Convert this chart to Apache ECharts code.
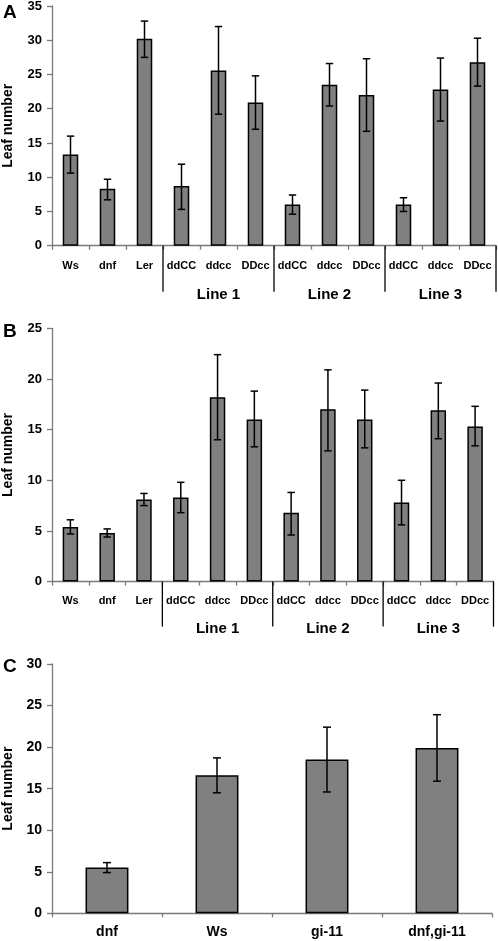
<!DOCTYPE html>
<html>
<head>
<meta charset="utf-8">
<script src="https://cdn.jsdelivr.net/npm/echarts@6/dist/echarts.min.js"></script>
<style>
html,body{margin:0;padding:0;background:#fff;}
#chart{width:498px;height:941px;}
</style>
</head>
<body>
<div id="chart"></div>
<script>
// ---- Data ----
const catsAB = ['Ws','dnf','Ler','ddCC','ddcc','DDcc','ddCC','ddcc','DDcc','ddCC','ddcc','DDcc'];
const groupNames = ['', 'Line 1', 'Line 2', 'Line 3'];
const groupStart = [0, 3, 6, 9];
const groupEnd = [2, 5, 8, 11];

const valuesA = [13.3, 8.3, 30.2, 8.7, 25.6, 20.9, 6.0, 23.5, 22.0, 6.0, 22.8, 26.8];
const errLowA = [10.6, 6.7, 27.5, 5.3, 19.2, 17.0, 4.6, 20.4, 16.7, 5.0, 18.2, 23.3];
const errHighA = [16.0, 9.7, 32.8, 11.9, 32.0, 24.8, 7.4, 26.6, 27.3, 7.0, 27.4, 30.3];

const valuesB = [5.4, 4.8, 8.1, 8.3, 18.2, 16.0, 6.8, 17.0, 16.0, 7.8, 16.9, 15.3];
const errLowB = [4.7, 4.4, 7.5, 6.8, 14.0, 13.3, 4.6, 12.9, 13.2, 5.6, 14.1, 13.4];
const errHighB = [6.1, 5.2, 8.7, 9.8, 22.4, 18.8, 8.8, 20.9, 18.9, 10.0, 19.6, 17.3];

const catsC = ['dnf', 'Ws', 'gi-11', 'dnf,gi-11'];
const valuesC = [5.5, 16.6, 18.5, 19.9];
const errLowC = [4.9, 14.5, 14.6, 15.9];
const errHighC = [6.1, 18.7, 22.4, 23.9];

const yTicksA = {min: 0, max: 35, interval: 5};
const yTicksB = {min: 0, max: 25, interval: 5};
const yTicksC = {min: 0, max: 30, interval: 5};

// ---- Styling ----
const FONT = 'Liberation Sans, Arial, sans-serif';
const AXIS_COLOR = '#7a7a7a';
const BAR_COLOR = '#808080';

function errData(lo, hi) { return lo.map((l, i) => [i, l, hi[i]]); }
function groupData() { return groupStart.map((s, i) => [s, groupEnd[i]]); }

function makeErrRender(capHalf) {
  return function (params, api) {
    const x = api.value(0);
    const lo = api.coord([x, api.value(1)]);
    const hi = api.coord([x, api.value(2)]);
    const st = {stroke: '#000', lineWidth: 1.5};
    return {type: 'group', children: [
      {type: 'line', shape: {x1: lo[0], y1: lo[1], x2: hi[0], y2: hi[1]}, style: st},
      {type: 'line', shape: {x1: lo[0] - capHalf, y1: lo[1], x2: lo[0] + capHalf, y2: lo[1]}, style: st},
      {type: 'line', shape: {x1: hi[0] - capHalf, y1: hi[1], x2: hi[0] + capHalf, y2: hi[1]}, style: st}
    ]};
  };
}

function makeGroupRender(sepLen, labelOff) {
  return function (params, api) {
    const s = api.value(0), e = api.value(1);
    const band = api.size([1, 0])[0];
    const p0 = api.coord([s, 0]);
    const p1 = api.coord([e, 0]);
    const xl = p0[0] - band / 2, xr = p1[0] + band / 2, y = p0[1];
    const st = {stroke: '#000', lineWidth: 1.3};
    const children = [];
    if (params.dataIndex > 0) {
      children.push({type: 'line', shape: {x1: xl, y1: y, x2: xl, y2: y + sepLen}, style: st});
    }
    if (params.dataIndex === groupStart.length - 1) {
      children.push({type: 'line', shape: {x1: xr, y1: y, x2: xr, y2: y + sepLen}, style: st});
    }
    const name = groupNames[params.dataIndex];
    if (name) {
      children.push({type: 'text', style: {
        text: name, x: (xl + xr) / 2, y: y + labelOff,
        align: 'center', verticalAlign: 'middle',
        fontFamily: FONT, fontWeight: 'bold', fontSize: 15, fill: '#000'
      }});
    }
    return {type: 'group', children: children};
  };
}

function xAxisCfg(grid, cats, fontSize, margin) {
  return {
    type: 'category', gridIndex: grid, data: cats,
    axisLine: {lineStyle: {color: AXIS_COLOR, width: 1.3}},
    axisTick: {show: true, length: 4, lineStyle: {color: AXIS_COLOR, width: 1.3}},
    axisLabel: {color: '#000', fontFamily: FONT, fontWeight: 'bold', fontSize: fontSize, margin: margin, interval: 0},
    splitLine: {show: false}
  };
}
function yAxisCfg(grid, ticks, fontSize, nameGap) {
  return {
    type: 'value', gridIndex: grid, min: ticks.min, max: ticks.max, interval: ticks.interval,
    name: 'Leaf number', nameLocation: 'middle', nameGap: nameGap,
    nameTextStyle: {color: '#000', fontFamily: FONT, fontWeight: 'bold', fontSize: 14},
    axisLine: {show: true, lineStyle: {color: AXIS_COLOR, width: 1.3}},
    axisTick: {show: true, length: 5, lineStyle: {color: AXIS_COLOR, width: 1.3}},
    axisLabel: {color: '#000', fontFamily: FONT, fontWeight: 'bold', fontSize: fontSize, margin: 10},
    splitLine: {show: false}
  };
}
function barSeries(idx, values, width) {
  return {
    type: 'bar', xAxisIndex: idx, yAxisIndex: idx, data: values, barWidth: width,
    itemStyle: {color: BAR_COLOR, borderColor: '#000', borderWidth: 1.5},
    animation: false, silent: true
  };
}
function errSeries(idx, lo, hi, capHalf) {
  return {
    type: 'custom', xAxisIndex: idx, yAxisIndex: idx, data: errData(lo, hi),
    encode: {x: 0, y: [1, 2]}, renderItem: makeErrRender(capHalf),
    clip: false, animation: false, silent: true, z: 5
  };
}
function groupSeries(idx, sepLen, labelOff) {
  return {
    type: 'custom', xAxisIndex: idx, yAxisIndex: idx, data: groupData(),
    encode: {x: [0, 1]}, renderItem: makeGroupRender(sepLen, labelOff),
    clip: false, animation: false, silent: true, z: 5
  };
}

const chart = echarts.init(document.getElementById('chart'), null, {renderer: 'canvas'});
chart.setOption({
  animation: false,
  backgroundColor: '#fff',
  grid: [
    {left: 52, top: 6, width: 444, height: 239.7, containLabel: false, outerBoundsMode: 'none'},
    {left: 52, top: 328.3, width: 441.5, height: 253.3, containLabel: false, outerBoundsMode: 'none'},
    {left: 52, top: 664, width: 440, height: 249.3, containLabel: false, outerBoundsMode: 'none'}
  ],
  xAxis: [
    xAxisCfg(0, catsAB, 11, 15),
    xAxisCfg(1, catsAB, 11, 14),
    xAxisCfg(2, catsC, 14, 12)
  ],
  yAxis: [
    yAxisCfg(0, yTicksA, 13, 37),
    yAxisCfg(1, yTicksB, 13, 37),
    yAxisCfg(2, yTicksC, 14, 37)
  ],
  graphic: [
    {type: 'text', left: 3, top: 3, style: {text: 'A', fontFamily: FONT, fontWeight: 'bold', fontSize: 19, fill: '#000'}},
    {type: 'text', left: 3, top: 322, style: {text: 'B', fontFamily: FONT, fontWeight: 'bold', fontSize: 19, fill: '#000'}},
    {type: 'text', left: 3, top: 657, style: {text: 'C', fontFamily: FONT, fontWeight: 'bold', fontSize: 19, fill: '#000'}}
  ],
  series: [
    barSeries(0, valuesA, '42%'),
    errSeries(0, errLowA, errHighA, 3.7),
    groupSeries(0, 46, 49),
    barSeries(1, valuesB, '42%'),
    errSeries(1, errLowB, errHighB, 3.7),
    groupSeries(1, 45, 47),
    barSeries(2, valuesC, '39%'),
    errSeries(2, errLowC, errHighC, 4)
  ]
});
</script>
</body>
</html>
